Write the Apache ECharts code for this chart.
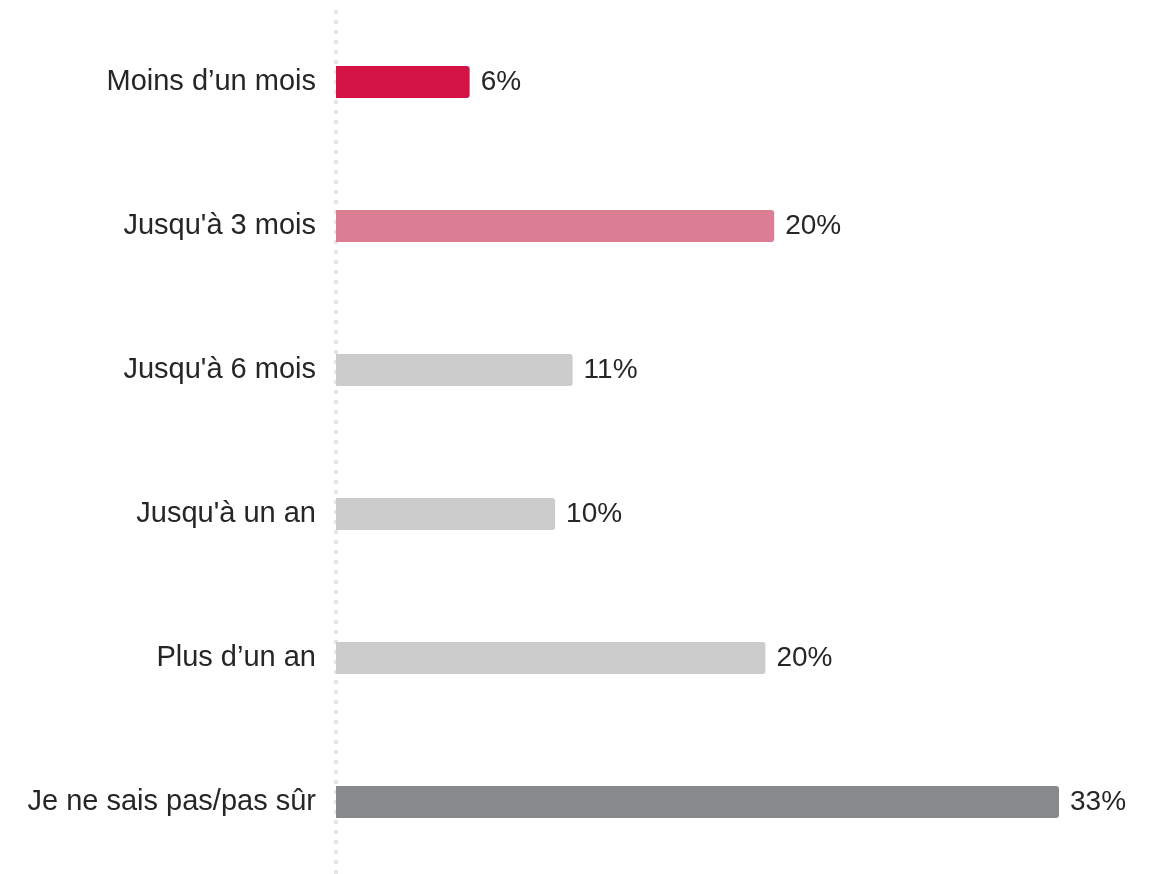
<!DOCTYPE html>
<html>
<head>
<meta charset="utf-8">
<script src="https://cdn.jsdelivr.net/npm/echarts@6/dist/echarts.min.js"></script>
<style>
html,body{margin:0;padding:0;background:#fff;}
#chart{width:1161px;height:874px;}
</style>
</head>
<body>
<div id="chart"></div>
<script>
const categories = ["Moins d’un mois", "Jusqu'à 3 mois", "Jusqu'à 6 mois", "Jusqu'à un an", "Plus d’un an", "Je ne sais pas/pas sûr"];
const values = [6.1, 20.0, 10.8, 10.0, 19.6, 33.0];
const valueLabels = ["6%", "20%", "11%", "10%", "20%", "33%"];
const colors = ["#d31245", "#db7d93", "#cccccc", "#cccccc", "#cccccc", "#878a8a"];

const chart = echarts.init(document.getElementById('chart'), null, {renderer: 'canvas'});
chart.setOption({
  animation: false,
  grid: {left: 336, width: 723, top: 10, bottom: 0, containLabel: false},
  xAxis: {
    type: 'value', min: 0, max: 33,
    show: false
  },
  yAxis: {
    type: 'category', data: categories, inverse: true,
    axisLine: {show: true, lineStyle: {color: '#e6e6e6', width: 4, type: [4, 6], cap: 'butt'}},
    axisTick: {show: false},
    axisLabel: {color: '#262626', fontSize: 29, fontFamily: 'Liberation Sans, Arial, sans-serif', margin: 20, padding: [4, 0, 0, 0]},
    splitLine: {show: false}
  },
  series: [{
    type: 'bar',
    barWidth: 32,
    data: values.map((v, i) => ({value: v, itemStyle: {color: colors[i], borderRadius: [0, 3, 3, 0]}})),
    label: {
      show: true, position: 'right', distance: 11, padding: [4, 0, 0, 0],
      color: '#262626', fontSize: 28, fontFamily: 'Liberation Sans, Arial, sans-serif',
      formatter: p => valueLabels[p.dataIndex]
    }
  }]
});
</script>
</body>
</html>
